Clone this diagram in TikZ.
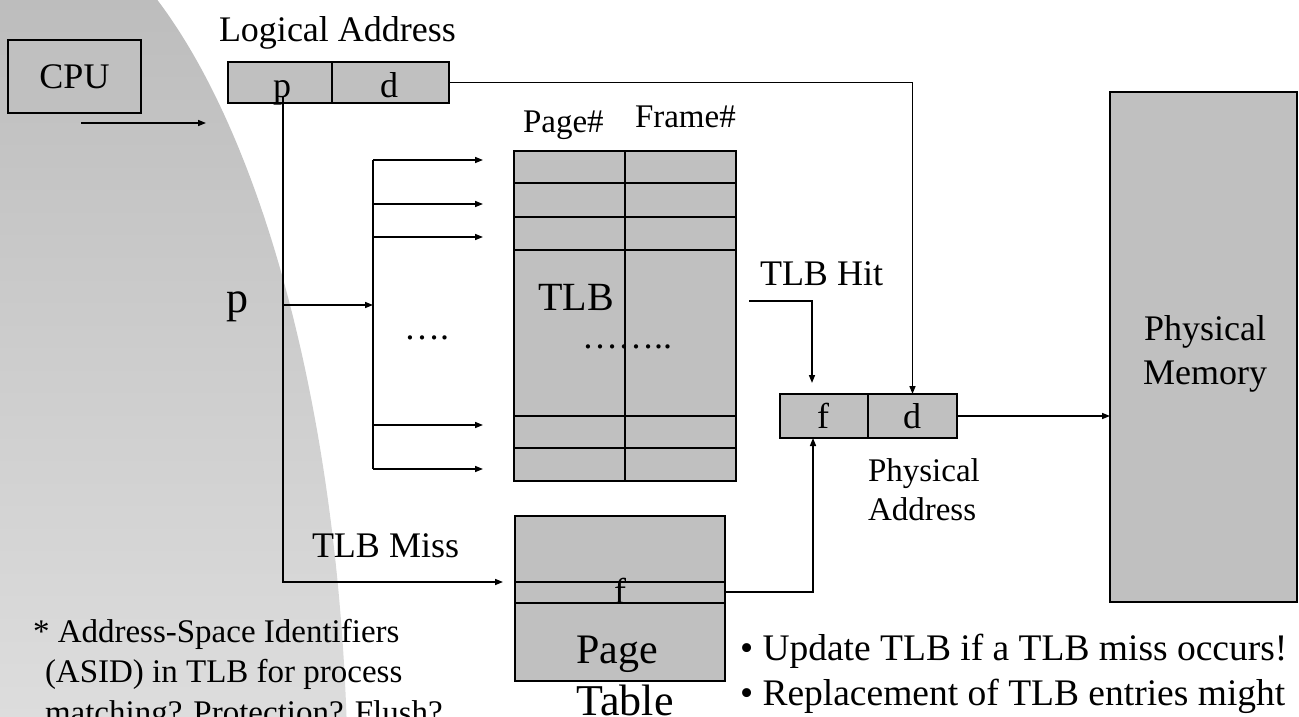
\documentclass[tikz,border=0pt]{standalone}
\usepackage{fontspec}
\setmainfont{Liberation Serif}
\usetikzlibrary{arrows.meta}
\definecolor{cellfill}{HTML}{C0C0C0}
\definecolor{bgtop}{HTML}{BDBDBD}
\definecolor{bgbot}{HTML}{DDDDDD}
\tikzset{
  cell/.style={rectangle, draw=black, fill=cellfill, line width=1.6pt,
    inner sep=0pt, outer sep=0pt},
  wire/.style={line width=1.5pt},
  flow/.style={wire, -{Triangle[length=8pt,width=6pt]}},
  rowline/.style={line width=1.7pt},
  txt/.style={inner sep=0pt, outer sep=0pt, font=\fontsize{36}{43}\selectfont},
  smalltxt/.style={inner sep=0pt, outer sep=0pt, font=\fontsize{33}{39}\selectfont},
  bigtxt/.style={inner sep=0pt, outer sep=0pt, font=\fontsize{42}{50}\selectfont},
  bullettxt/.style={inner sep=0pt, outer sep=0pt, font=\fontsize{37.5}{45}\selectfont},
}
\begin{document}
\begin{tikzpicture}[x=1pt, y=-1pt]
\useasboundingbox (0,0) rectangle (1299,717);

% shaded backdrop on the left
\begin{scope}
  \clip (-4,800) ellipse [x radius=352pt, y radius=900pt];
  \shade[top color=bgtop, bottom color=bgbot] (-10,-2) rectangle (400,720);
\end{scope}

% CPU
\node[cell, minimum width=133pt, minimum height=73pt, font=\fontsize{36}{43}\selectfont] (cpu) at (74.5,76.5) {CPU};
\coordinate (cpuout) at (81,123);
\coordinate (cpuend) at (206,123);
\draw[flow] (cpuout) -- (cpuend);

% logical address p | d
\node[txt, anchor=base west] (lalabel) at (219,42) {Logical Address};
\node[cell, minimum width=104pt, minimum height=41pt] (lap) at (280,82.5) {};
\node[cell, minimum width=117pt, minimum height=41pt] (lad) at (390.5,82.5) {};
\node[txt, anchor=base] (laptext) at (282,97) {p};
\node[txt, anchor=base] (ladtext) at (389,97) {d};

% TLB
\node[cell, minimum width=222pt, minimum height=330pt] (tlb) at (625,316) {};
\draw[line width=1.3pt] (tlb.north) -- (tlb.south);
\foreach \yy in {183,217,250,416,448}
  \draw[rowline] (514,\yy) -- (736,\yy);
\node[smalltxt, anchor=base west] (pagehdr) at (523,132) {Page\#};
\node[smalltxt, anchor=base west] (framehdr) at (635,128) {Frame\#};
\node[inner sep=0pt, font=\fontsize{40}{48}\selectfont, anchor=base west] (tlbtext) at (538,310) {TLB};
\node[txt, anchor=base west] (tlbdots) at (582,348) {……..};

% physical address f | d
\node[cell, minimum width=88pt, minimum height=44pt] (paf) at (824,416) {};
\node[cell, minimum width=89pt, minimum height=44pt] (pad) at (912.5,416) {};
\node[txt, anchor=base] (paftext) at (823,428) {f};
\node[txt, anchor=base] (padtext) at (912,428) {d};
\node[smalltxt, anchor=base west] (pal1) at (868,481) {Physical};
\node[smalltxt, anchor=base west] (pal2) at (868,520) {Address};

% physical memory
\node[cell, minimum width=187pt, minimum height=510pt] (mem) at (1203.5,347) {};
\node[txt, anchor=base] (meml1) at (1205,340) {Physical};
\node[txt, anchor=base] (meml2) at (1205,384) {Memory};

% page table
\node[cell, minimum width=210pt, minimum height=165pt] (pt) at (620,598.5) {};
\draw[rowline] (515,582) -- (725,582);
\draw[rowline] (515,603) -- (725,603);
\node[txt, anchor=base] (ptf) at (620,603) {f};
\node[bigtxt, anchor=base] (ptl1) at (617,663) {Page};
\node[inner sep=0pt, font=\fontsize{44}{52}\selectfont, anchor=base] (ptl2) at (625,715) {Table};

% page number path into the TLB
\coordinate (pfoot) at (283,97);
\coordinate (pjoin) at (283,305);
\coordinate (brmid) at (373,305);
\coordinate (misstip) at (503,582);
\draw[flow] (pfoot) |- (misstip);
\draw[flow] (pjoin) -- (brmid);
\node[inner sep=0pt, font=\fontsize{44}{52}\selectfont, anchor=base] (plabel) at (237,312) {p};
\node[txt, anchor=base west] (fanout) at (404,339) {….};
\foreach \yy [count=\i] in {160,204,237,425,469} {
  \coordinate (br\i) at (373,\yy);
  \coordinate (tip\i) at (483,\yy);
  \draw[flow] (br\i) -- (tip\i);
}
\draw[wire] (br1) -- (br5);
\node[txt, anchor=base west] (misslabel) at (312,557) {TLB Miss};

% offset straight through to the physical address
\draw[flow] (lad.east) -| (pad.north);

% TLB hit
\node[txt, anchor=base west] (hitlabel) at (760,285) {TLB Hit};
\coordinate (hitfrom) at (749,301);
\coordinate (hitto) at (812,383);
\draw[flow] (hitfrom) -| (hitto);

% frame from the page table
\coordinate (ptrow) at (725,592);
\draw[flow] (ptrow) -| ([xshift=-11pt]paf.south);

% physical address to memory
\draw[flow] (pad.east) -- (pad.east -| mem.west);

% notes
\node[smalltxt, anchor=base west] (note1) at (33,642) {* Address-Space Identifiers};
\node[smalltxt, anchor=base west] (note2) at (45,682) {(ASID) in TLB for process};
\node[smalltxt, anchor=base west] (note3) at (45,723) {matching? Protection? Flush?};
\node[bullettxt, anchor=base west] (bul1) at (740,660) {• Update TLB if a TLB miss occurs!};
\node[bullettxt, anchor=base west] (bul2) at (740,705) {• Replacement of TLB entries might};
\end{tikzpicture}
\end{document}
